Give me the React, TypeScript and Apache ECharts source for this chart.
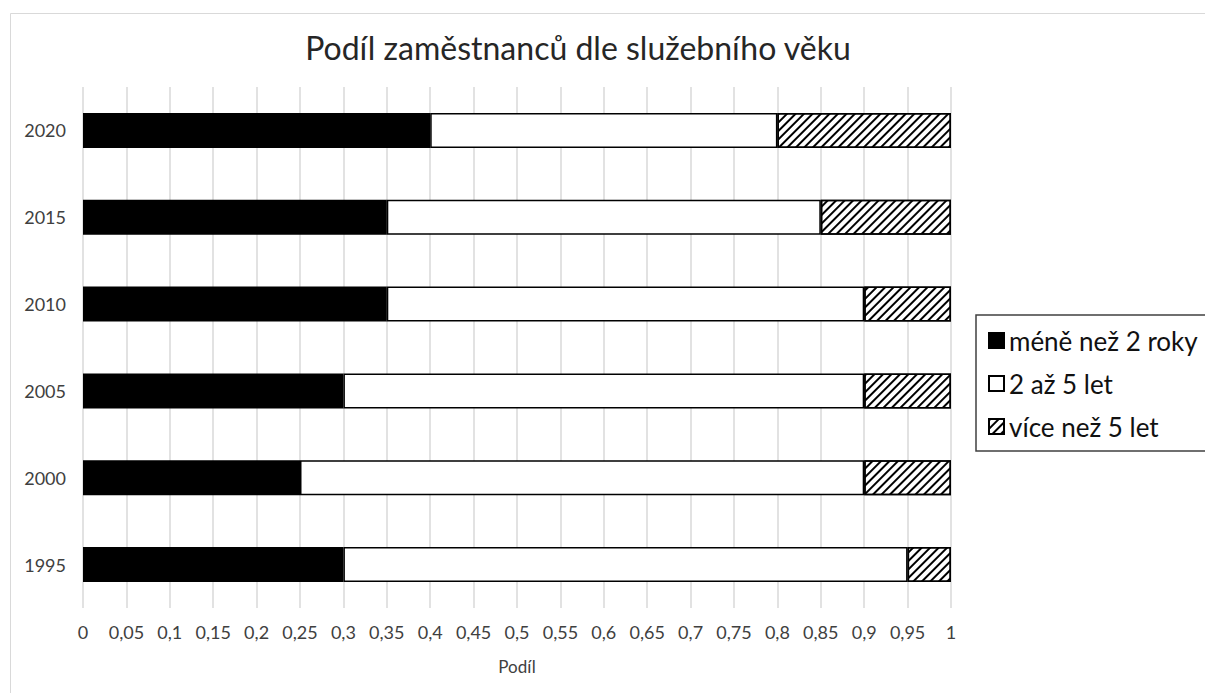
import React, { useEffect, useRef } from "react";
import * as echarts from "echarts";

const years = ["1995", "2000", "2005", "2010", "2015", "2020"];
const lessThan2 = [0.3, 0.25, 0.3, 0.35, 0.35, 0.4];
const twoToFive = [0.65, 0.65, 0.6, 0.55, 0.5, 0.4];
const moreThan5 = [0.05, 0.1, 0.1, 0.1, 0.15, 0.2];
const seriesNames = ["méně než 2 roky", "2 až 5 let", "více než 5 let"];
const titleText = "Podíl zaměstnanců dle služebního věku";
const xAxisName = "Podíl";

const FONT = "Lato, 'Open Sans', sans-serif";

export default function App() {
  const ref = useRef<HTMLDivElement>(null);
  useEffect(() => {
    if (!ref.current) return;
    const chart = echarts.init(ref.current, undefined, { renderer: "svg" });
    const barBase = {
      type: "bar",
      stack: "total",
      barWidth: 35,
    };
    chart.setOption({
      animation: false,
      backgroundColor: "#fff",
      textStyle: { fontFamily: FONT },
      title: {
        text: titleText,
        left: 573,
        top: 26,
        textAlign: "center",
        textStyle: { fontFamily: FONT, fontSize: 32, fontWeight: "normal", color: "#262626" },
      },
      graphic: [
        {
          type: "rect",
          shape: { x: 10.5, y: 13.5, width: 1300, height: 700 },
          style: { fill: "none", stroke: "#d9d9d9", lineWidth: 1 },
          silent: true,
        },
      ],
      legend: {
        orient: "vertical",
        left: 976,
        top: 315,
        padding: [10, 30, 9, 12],
        itemGap: 12,
        itemWidth: 15,
        itemHeight: 15,
        borderColor: "#404040",
        borderWidth: 1.5,
        textStyle: { fontFamily: FONT, fontSize: 26, lineHeight: 31, color: "#111" },
        data: seriesNames.map((n) => ({ name: n, icon: "rect" })),
      },
      grid: { left: 83, right: 254, top: 87, bottom: 85, containLabel: false },
      xAxis: {
        type: "value",
        min: 0,
        max: 1,
        interval: 0.05,
        name: xAxisName,
        nameLocation: "middle",
        nameGap: 50,
        nameTextStyle: { fontFamily: FONT, fontSize: 17, color: "#404040" },
        axisLine: { show: false },
        axisTick: { show: false },
        splitLine: { show: true, lineStyle: { color: "#d9d9d9", width: 1.5 } },
        axisLabel: {
          fontFamily: FONT,
          fontSize: 18,
          color: "#404040",
          margin: 15,
          formatter: (v: number) => String(Number(v.toFixed(2))).replace(".", ","),
        },
      },
      yAxis: {
        type: "category",
        data: years,
        axisLine: { show: false },
        axisTick: { show: false },
        axisLabel: { fontFamily: FONT, fontSize: 18, color: "#404040", margin: 17 },
      },
      series: [
        {
          ...barBase,
          name: seriesNames[0],
          data: lessThan2,
          itemStyle: { color: "#000", borderColor: "#000", borderWidth: 1.5 },
        },
        {
          ...barBase,
          name: seriesNames[1],
          data: twoToFive,
          itemStyle: { color: "#fff", borderColor: "#000", borderWidth: 1.5 },
        },
        {
          ...barBase,
          name: seriesNames[2],
          data: moreThan5,
          itemStyle: {
            color: "#fff",
            borderColor: "#000",
            borderWidth: 1.5,
            decal: {
              symbol: "rect",
              symbolSize: 1,
              color: "#000",
              backgroundColor: "#fff",
              dashArrayX: [1, 0],
              dashArrayY: [2, 3.5],
              rotation: -Math.PI / 4,
            },
          },
        },
      ],
    });
    return () => chart.dispose();
  }, []);
  return (
    <div
      ref={ref}
      style={{ position: "fixed", left: 0, top: 0, width: 1205, height: 693 }}
    />
  );
}
